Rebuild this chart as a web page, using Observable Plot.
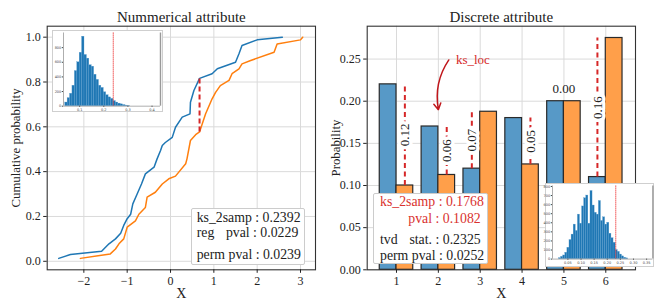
<!DOCTYPE html>
<html><head><meta charset="utf-8">
<script src="https://cdn.jsdelivr.net/npm/d3@7"></script>
<script src="https://cdn.jsdelivr.net/npm/@observablehq/plot@0.6"></script>
<style>
body{margin:0;background:#fff;}
#fig{position:relative;width:665px;height:307px;overflow:hidden;font-family:"Liberation Serif",serif;color:#222;}
.inset{position:absolute;background:#fff;border:1px solid #cfcfcf;box-sizing:border-box;}
.inset svg{position:absolute;left:0;top:0;}
.leg{position:absolute;background:#fff;border:1px solid #cccccc;border-radius:2px;box-sizing:border-box;font-size:13.8px;}
.leg span{position:absolute;white-space:pre;line-height:1;transform:translateY(-50%);}
.red{color:#d9312e;}
</style></head><body><div id="fig"></div>
<script>
// ---------- Left panel: numerical attribute (ECDFs) ----------
const numTitle = "Nummerical attribute";
const numXTicks = [-2, -1, 0, 1, 2, 3];
const numYTicks = [0, 0.2, 0.4, 0.6, 0.8, 1.0];
const blueX = [-2.58,-2.31,-1.59,-1.42,-1.27,-1.15,-1.08,-1.0,-0.92,-0.87,-0.77,-0.67,-0.58,-0.38,-0.31,-0.23,-0.19,-0.12,0.04,0.115,0.27,0.45,0.46,0.54,0.67,0.96,1.08,1.5,1.58,1.65,2.0,2.58];
const blueY = [0.013,0.03,0.045,0.078,0.1,0.125,0.16,0.19,0.21,0.256,0.30,0.345,0.39,0.42,0.457,0.494,0.517,0.53,0.553,0.598,0.643,0.658,0.71,0.762,0.816,0.837,0.859,0.888,0.926,0.963,0.988,1.0];
const orangeX = [-2.08,-1.39,-1.27,-1.19,-1.08,-1.0,-0.81,-0.73,-0.58,-0.54,-0.35,-0.19,-0.04,0.115,0.35,0.38,0.46,0.58,0.67,0.81,0.96,1.04,1.15,1.35,1.42,1.58,1.65,1.85,2.39,2.46,3.0,3.05];
const orangeY = [0.013,0.033,0.055,0.078,0.1,0.152,0.18,0.21,0.24,0.286,0.308,0.345,0.368,0.38,0.435,0.457,0.539,0.565,0.577,0.658,0.725,0.754,0.784,0.807,0.837,0.859,0.881,0.896,0.933,0.97,0.988,1.0];
const ksX = 0.67, ksLow = 0.577, ksHigh = 0.816;
// left inset: permutation distribution of ks statistic
const leftInsetBins = [0.04,0.05,0.06,0.07,0.08,0.09,0.10,0.11,0.12,0.13,0.14,0.15,0.16,0.17,0.18,0.19,0.20,0.21,0.22,0.23,0.24,0.25,0.26,0.27,0.28,0.29,0.30];
const leftInsetCounts = [50,110,170,280,480,600,730,950,700,650,560,540,430,360,280,250,190,150,120,100,70,50,35,25,15,8,5];
const leftInsetXTicks = [0.1, 0.2, 0.3, 0.4];
const leftInsetYTicks = [0, 200, 400, 600, 800];
const leftInsetStat = 0.2392;

// ---------- Right panel: discrete attribute ----------
const discTitle = "Discrete attribute";
const cats = [1, 2, 3, 4, 5, 6];
const probA = [0.22, 0.17, 0.12, 0.18, 0.20, 0.11];
const probB = [0.10, 0.1125, 0.1875, 0.125, 0.20, 0.275];
const diffLabels = ["0.12", "0.06", "0.07", "0.05", "0.00", "0.16"];
const discYTicks = [0, 0.05, 0.10, 0.15, 0.20, 0.25];
const ksLoc = 2, ksLocTextY = 0.249, ksLocArrowEndY = 0.19;
// right inset: permutation distribution of tvd
const rightInsetBins = [0.016,0.024,0.032,0.040,0.048,0.056,0.064,0.072,0.080,0.088,0.096,0.104,0.112,0.120,0.128,0.136,0.144,0.152,0.160,0.168,0.176,0.184,0.192,0.200,0.208,0.216,0.224,0.232,0.240,0.248,0.256,0.264,0.272];
const rightInsetCounts = [10,25,40,70,125,210,270,380,310,490,390,580,670,700,390,750,590,510,490,640,420,460,380,400,280,230,180,100,80,50,30,15,8];
const rightInsetXTicks = [0.05,0.10,0.15,0.20,0.25,0.30,0.35];
const rightInsetYTicks = [0,100,200,300,400,500,600,700,800];
const rightInsetStat = 0.2325;

const RED = "#d62728";
const GRID = "#dadada";
const FONT = "'Liberation Serif', serif";
const fig = document.getElementById("fig");

function place(el, x, y) { el.style.position = "absolute"; el.style.left = x + "px"; el.style.top = y + "px"; return el; }
const mid = {lineAnchor: "middle", textAnchor: "middle"};

// ---- left main
const blue = blueX.map((x, i) => ({x, y: blueY[i]}));
const orange = orangeX.map((x, i) => ({x, y: orangeY[i]}));
const leftPlot = Plot.plot({
  width: 330, height: 307,
  marginLeft: 46.7, marginRight: 15, marginTop: 25.7, marginBottom: 37.7,
  style: {fontFamily: FONT, fontSize: "12px", color: "#222", background: "transparent", overflow: "visible"},
  x: {domain: [-2.846, 3.346]},
  y: {domain: [-0.038, 1.049]},
  marks: [
    Plot.gridX(numXTicks, {stroke: GRID, strokeOpacity: 1}),
    Plot.gridY(numYTicks, {stroke: GRID, strokeOpacity: 1}),
    Plot.line(blue, {x: "x", y: "y", stroke: "#1f77b4", strokeWidth: 1.5}),
    Plot.line(orange, {x: "x", y: "y", stroke: "#ff7f0e", strokeWidth: 1.5}),
    Plot.ruleX([{x: ksX, y1: ksLow, y2: ksHigh}], {x: "x", y1: "y1", y2: "y2", stroke: RED, strokeWidth: 2, strokeDasharray: "5,3"}),
    Plot.frame({stroke: "#333", strokeWidth: 1.1}),
    Plot.axisX(numXTicks, {tickSize: 3.5, tickPadding: 3, label: null, fontSize: 12}),
    Plot.axisY(numYTicks, {tickSize: 3.5, tickPadding: 3, label: null, tickFormat: ".1f", fontSize: 12}),
    Plot.text([numTitle], {frameAnchor: "top", dy: -9, fontSize: 15, ...mid}),
    Plot.text(["X"], {frameAnchor: "bottom", dy: 23.7, fontSize: 14, ...mid}),
    Plot.text(["Cumulative probability"], {frameAnchor: "left", rotate: -90, dx: -31, fontSize: 12.8, ...mid})
  ]
});
fig.appendChild(place(leftPlot, 0, 0));

// ---- right main
const rows = cats.map((c, i) => ({cat: c, a: probA[i], b: probB[i], label: diffLabels[i]}));
const lineX = d => d.a < d.b ? d.cat - 0.2 : d.cat + 0.2;
const diffRows = rows.filter(d => d.a !== d.b);
const eqRows = rows.filter(d => d.a === d.b);
const rightPlot = Plot.plot({
  width: 335, height: 307,
  marginLeft: 36.7, marginRight: 30, marginTop: 25.7, marginBottom: 37.7,
  style: {fontFamily: FONT, fontSize: "12px", color: "#222", background: "transparent", overflow: "visible"},
  x: {domain: [0.30, 6.71]},
  y: {domain: [0, 0.289]},
  marks: [
    Plot.gridX(cats, {stroke: GRID, strokeOpacity: 1}),
    Plot.gridY(discYTicks, {stroke: GRID, strokeOpacity: 1}),
    Plot.rectY(rows, {x1: d => d.cat - 0.4, x2: "cat", y: "a", fill: "#5799c7", stroke: "#2a2a2a", strokeWidth: 1.2}),
    Plot.rectY(rows, {x1: "cat", x2: d => d.cat + 0.4, y: "b", fill: "#ff9f4a", stroke: "#2a2a2a", strokeWidth: 1.2}),
    Plot.ruleX(diffRows, {x: lineX, y1: d => Math.min(d.a, d.b), y2: d => Math.max(d.a, d.b), stroke: RED, strokeWidth: 2, strokeDasharray: "5,3.5"}),
    Plot.text(diffRows, {x: lineX, y: d => (d.a + d.b) / 2, text: "label", rotate: -90, fontSize: 13, fill: "#222", stroke: "white", strokeWidth: 7, paintOrder: "stroke"}),
    Plot.text(eqRows, {x: "cat", y: "a", dy: -12, text: "label", fontSize: 13, fill: "#222"}),
    Plot.arrow([{x1: ksLoc + 0.25, y1: ksLocTextY, x2: ksLoc, y2: ksLocArrowEndY}], {x1: "x1", y1: "y1", x2: "x2", y2: "y2", bend: -22, stroke: "#c0161b", strokeWidth: 1.5, headLength: 7}),
    Plot.text(["ks_loc"], {x: ksLoc + 0.42, y: ksLocTextY, textAnchor: "start", fill: RED, fontSize: 13}),
    Plot.frame({stroke: "#333", strokeWidth: 1.1}),
    Plot.axisX(cats, {tickSize: 3.5, tickPadding: 3, label: null, fontSize: 12}),
    Plot.axisY(discYTicks, {tickSize: 3.5, tickPadding: 3, label: null, tickFormat: ".2f", fontSize: 12}),
    Plot.text([discTitle], {frameAnchor: "top", dy: -9, fontSize: 15, ...mid}),
    Plot.text(["X"], {frameAnchor: "bottom", dy: 23.7, fontSize: 14, ...mid}),
    Plot.text(["Probability"], {frameAnchor: "left", rotate: -90, dx: -31.5, fontSize: 12.8, ...mid})
  ]
});
fig.appendChild(place(rightPlot, 330, 0));

// ---- insets
function inset(x, y, w, h, m, bins, counts, binW, xDomain, yDomain, xt, yt, stat, xfmt) {
  const box = document.createElement("div");
  box.className = "inset";
  place(box, x, y);
  box.style.width = w + "px"; box.style.height = h + "px";
  const data = bins.map((b, i) => ({x0: b, c: counts[i]}));
  const p = Plot.plot({
    width: w - 2, height: h - 2,
    marginLeft: m[0], marginRight: m[1], marginTop: m[2], marginBottom: m[3],
    style: {fontFamily: "DejaVu Sans, sans-serif", fontSize: "3.5px", color: "#444", background: "transparent", overflow: "visible"},
    x: {domain: xDomain},
    y: {domain: yDomain},
    marks: [
      Plot.rectY(data, {x1: "x0", x2: d => d.x0 + binW, y: "c", fill: "#1f77b4", stroke: "#5fa0d0", strokeWidth: 0.3}),
      Plot.ruleX([stat], {stroke: "#ee3b3b", strokeWidth: 1, strokeDasharray: "1.3,0.7"}),
      Plot.axisX(xt, {tickSize: 1.2, tickPadding: 1, label: null, tickFormat: xfmt, fontSize: 3.5}),
      Plot.axisY(yt, {tickSize: 1.2, tickPadding: 1, label: null, tickFormat: d => String(d), fontSize: 3.5}),
      Plot.ruleX([xDomain[0]], {stroke: "#777", strokeWidth: 0.6}),
      Plot.ruleY([yDomain[0]], {stroke: "#777", strokeWidth: 0.6}),
      Plot.ruleX([xDomain[1]], {stroke: "#999", strokeWidth: 1.4})
    ]
  });
  box.appendChild(p);
  fig.appendChild(box);
}
inset(51.7, 30, 111.6, 82.3, [10, 2.6, 1.5, 5.6], leftInsetBins, leftInsetCounts, 0.01,
      [0.033, 0.435], [0, 1000], leftInsetXTicks, leftInsetYTicks, leftInsetStat, ".1f");
inset(545, 182.7, 109, 84, [6, 0.6, 1.5, 7.4], rightInsetBins, rightInsetCounts, 0.008,
      [-0.0087, 0.374], [0, 805], rightInsetXTicks, rightInsetYTicks, rightInsetStat, ".2f");

// ---- legend boxes
function legend(x, y, w, h, items) {
  const box = document.createElement("div");
  box.className = "leg";
  place(box, x, y);
  box.style.width = w + "px"; box.style.height = h + "px";
  for (const it of items) {
    const s = document.createElement("span");
    s.textContent = it.t;
    if (it.red) s.className = "red";
    s.style.top = it.cy + "px";
    if (it.r !== undefined) s.style.right = it.r + "px"; else s.style.left = it.l + "px";
    box.appendChild(s);
  }
  fig.appendChild(box);
}
legend(191, 208.3, 114, 56.7, [
  {t: "ks_2samp : 0.2392", l: 4.7, cy: 9.2},
  {t: "reg", l: 4.7, cy: 23.5},
  {t: "pval : 0.0229", r: 5.7, cy: 23.5},
  {t: "perm pval : 0.0239", l: 4.7, cy: 45.5}
]);
legend(373, 193, 115, 71, [
  {t: "ks_2samp : 0.1768", l: 6, cy: 8.2, red: true},
  {t: "pval : 0.1082", r: 6.3, cy: 24.8, red: true},
  {t: "tvd", l: 6, cy: 45.5},
  {t: "stat. : 0.2325", r: 6.3, cy: 45.5},
  {t: "perm pval : 0.0252", l: 6, cy: 61.5}
]);
</script></body></html>
